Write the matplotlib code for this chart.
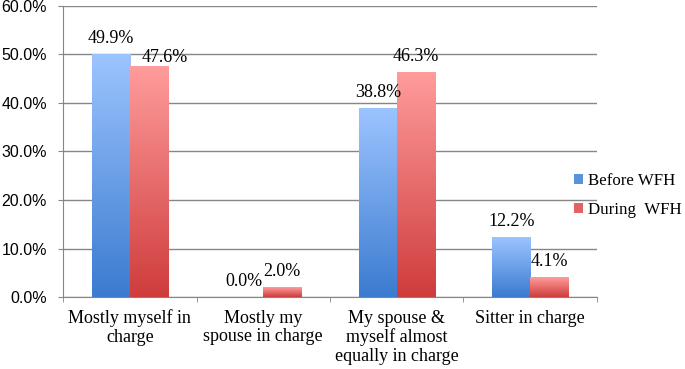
import numpy as np
import matplotlib
matplotlib.use("Agg")
import matplotlib.pyplot as plt
from matplotlib.colors import LinearSegmentedColormap
from matplotlib.patches import Patch

categories = ["Mostly myself in\ncharge", "Mostly my\nspouse in charge",
              "My spouse &\nmyself almost\nequally in charge", "Sitter in charge"]
before_wfh = [49.9, 0.0, 38.8, 12.2]
during_wfh = [47.6, 2.0, 46.3, 4.1]
series_names = ["Before WFH", "During  WFH"]
y_ticks = [0, 10, 20, 30, 40, 50, 60]

serif = "Liberation Serif"
grid_col = "#868686"

blue_cmap = LinearSegmentedColormap.from_list("b", ["#3b7bd0", "#9cc4ff"])
red_cmap = LinearSegmentedColormap.from_list("r", ["#cf3c3c", "#ff9c9c"])
grad = np.linspace(0, 1, 256).reshape(-1, 1)

fig = plt.figure(figsize=(6.85, 3.69), dpi=100)
ax = fig.add_axes([0.092, 0.195, 0.7795, 0.789])

x = np.arange(len(categories))
w = 0.285
bars_b = ax.bar(x - w / 2, before_wfh, w, facecolor="none", edgecolor="none", zorder=3)
bars_r = ax.bar(x + w / 2, during_wfh, w, facecolor="none", edgecolor="none", zorder=3)

for bars, cmap in [(bars_b, blue_cmap), (bars_r, red_cmap)]:
    for b in bars:
        h = b.get_height()
        if h <= 0:
            continue
        x0 = b.get_x()
        ax.imshow(grad, cmap=cmap, origin="lower", aspect="auto",
                  extent=(x0, x0 + b.get_width(), 0, h), zorder=3)

# data labels (the 47.6% one is nudged right in the original)
nudge = {(1, 0): (11.5, -5)}
for s, bars in enumerate([bars_b, bars_r]):
    for i, b in enumerate(bars):
        dx, dy = nudge.get((s, i), (0, 0))
        ax.annotate(f"{b.get_height():.1f}%",
                    (b.get_x() + b.get_width() / 2, b.get_height()),
                    xytext=(dx, 11.5 + dy), textcoords="offset points",
                    ha="center", va="center", fontsize=13, family=serif, zorder=4)

ax.set_xlim(-0.5, len(categories) - 0.5)
ax.set_ylim(0, 60)
ax.set_yticks(y_ticks)
ax.set_yticklabels([f"{v:.1f}%" for v in y_ticks], family="Liberation Sans", fontsize=11.5)
ax.yaxis.grid(True, color=grid_col, linewidth=1)
ax.set_axisbelow(True)

ax.set_xticks(x)
ax.set_xticklabels(categories, family=serif, fontsize=13, linespacing=1.12)
ax.set_xticks(np.arange(-0.5, len(categories)), minor=True)
ax.tick_params(axis="x", which="major", length=0, pad=9)
ax.tick_params(axis="x", which="minor", length=3.6, color=grid_col)
ax.tick_params(axis="y", length=3.6, color=grid_col, pad=8)

for sp in ["top", "right"]:
    ax.spines[sp].set_visible(False)
for sp in ["left", "bottom"]:
    ax.spines[sp].set_color(grid_col)

handles = [Patch(facecolor="#5a90dc"), Patch(facecolor="#e06464")]
fig.legend(handles, series_names, loc="center left", bbox_to_anchor=(0.838, 0.47),
           frameon=False, prop={"family": serif, "size": 12.2},
           borderpad=0, borderaxespad=0,
           handlelength=0.55, handleheight=0.55, handletextpad=0.3, labelspacing=0.8)

fig.savefig("out.png", dpi=100)
